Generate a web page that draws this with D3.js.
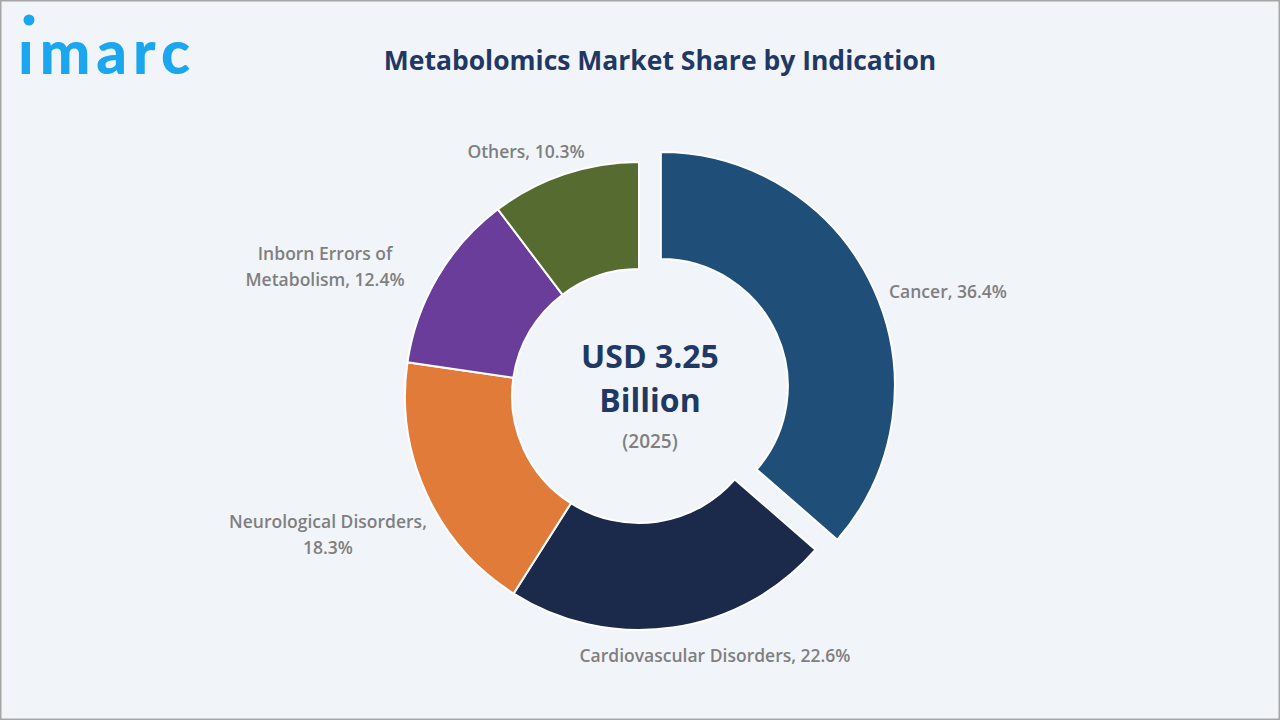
<!DOCTYPE html>
<html><head><meta charset="utf-8">
<script src="https://cdn.jsdelivr.net/npm/d3@7"></script>
<style>body{margin:0;background:#f1f5fa;}svg{display:block;font-family:'Open Sans',sans-serif;}</style>
</head><body><svg id="c" width="1280" height="720"></svg>
<script>
const categories=["Cancer","Cardiovascular Disorders","Neurological Disorders","Inborn Errors of Metabolism","Others"];
const shares=[36.4,22.6,18.3,12.4,10.3];
const colors=["#1f4e79","#1b2a4a","#e07b39","#6a3d9a","#556b2f"];
const labelLines=[["Cancer, 36.4%"],["Cardiovascular Disorders, 22.6%"],["Neurological Disorders,","18.3%"],["Inborn Errors of","Metabolism, 12.4%"],["Others, 10.3%"]];
const labelPos=[[889,298,"start"],[715,662,"middle"],[328,528,"middle"],[325,260,"middle"],[526,158,"middle"]];
const svg=d3.select("#c");
svg.append("rect").attr("x",0.5).attr("y",0.5).attr("width",1279).attr("height",719).attr("fill","#f1f5fa").attr("stroke","#a6a6a6").attr("stroke-width",2);
svg.append("text").attr("x",18).attr("y",74).attr("fill","#1ba6f0").attr("font-family","Lato").attr("font-weight",900).attr("font-size",60).attr("letter-spacing",6).text("ımarc");
svg.append("circle").attr("cx",29).attr("cy",20).attr("r",5.5).attr("fill","#1ba6f0");
svg.append("text").attr("x",660).attr("y",70).attr("text-anchor","middle").attr("fill","#1f3864").attr("font-weight",700).attr("font-size",26.5).text("Metabolomics Market Share by Indication");
const cx=639,cy=396,R=234,r=127;
const pie=d3.pie().sort(null)(shares);
const arc=d3.arc().innerRadius(r).outerRadius(R);
const g=svg.append("g").attr("transform",`translate(${cx},${cy})`);
g.selectAll("path").data(pie).join("path").attr("d",arc).attr("fill",(d,i)=>colors[i]).attr("stroke","#fff").attr("stroke-width",2)
 .attr("transform",(d,i)=>{if(i)return null;const a=(d.startAngle+d.endAngle)/2;return `translate(${24*Math.sin(a)},${-24*Math.cos(a)})`;});
labelLines.forEach((ls,i)=>{const t=svg.append("text").attr("x",labelPos[i][0]).attr("y",labelPos[i][1]).attr("text-anchor",labelPos[i][2]).attr("fill","#7f7f7f").attr("font-weight",600).attr("font-size",17.5);
 ls.forEach((l,j)=>t.append("tspan").attr("x",labelPos[i][0]).attr("dy",j?26:0).text(l));});
svg.append("text").attr("x",650).attr("y",368).attr("text-anchor","middle").attr("fill","#1f3864").attr("font-weight",700).attr("font-size",32).text("USD 3.25");
svg.append("text").attr("x",650).attr("y",412).attr("text-anchor","middle").attr("fill","#1f3864").attr("font-weight",700).attr("font-size",32).text("Billion");
svg.append("text").attr("x",650).attr("y",448).attr("text-anchor","middle").attr("fill","#7f7f7f").attr("font-weight",600).attr("font-size",19).text("(2025)");
</script></body></html>
